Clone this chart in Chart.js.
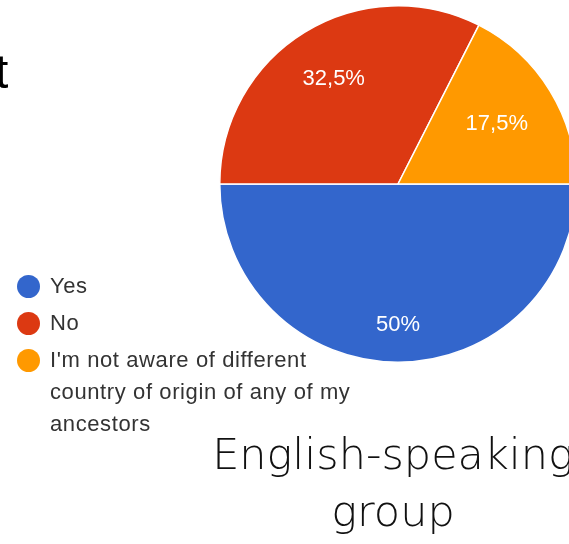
<!DOCTYPE html>
<html>
<head>
<meta charset="utf-8">
<script src="https://cdn.jsdelivr.net/npm/chart.js@4.4.0/dist/chart.umd.min.js"></script>
<style>
  html, body { margin: 0; padding: 0; background: #fff; width: 569px; height: 544px; overflow: hidden; }
  #wrap { position: absolute; left: 0; top: 0; width: 580px; height: 544px; }
  #titleFrag { position: absolute; left: -5px; top: 42px; font: 48px "Liberation Sans", Arial, sans-serif; color: #000; line-height: 60px; }
  #legend { position: absolute; left: 0; top: 270px; font: 22px "Liberation Sans", Arial, sans-serif; color: #333; letter-spacing: 0.6px; }
  .item { position: relative; padding-left: 50px; width: 315px; line-height: 32px; margin-bottom: 5px; }
  .dot { position: absolute; left: 17px; top: 5px; width: 23px; height: 23px; border-radius: 50%; }
  #caption { position: absolute; left: 143px; width: 500px; top: 426px; text-align: center; font: 200 43px "DejaVu Sans", sans-serif; color: #111; line-height: 57px; }
</style>
</head>
<body>
<div id="wrap"><canvas id="pieChart"></canvas></div>
<div id="titleFrag">t</div>
<div id="legend"></div>
<div id="caption">English-speaking<br>group</div>
<script>
const labels = ['Yes', 'No', "I'm not aware of different country of origin of any of my ancestors"];
const values = [50, 32.5, 17.5];
const valueLabels = ['50%', '32,5%', '17,5%'];
const colors = ['#3366cc', '#dc3912', '#ff9900'];

// where the percentage text sits, as a share of the radius
const labelRadius = [0.79, 0.69, 0.65];

const sliceLabels = {
    id: 'sliceLabels',
    afterDatasetsDraw(chart) {
        const ctx = chart.ctx;
        const arcs = chart.getDatasetMeta(0).data;
        ctx.save();
        ctx.fillStyle = '#fff';
        ctx.font = '22px "Liberation Sans", Arial, sans-serif';
        ctx.textAlign = 'center';
        ctx.textBaseline = 'middle';
        arcs.forEach((arc, i) => {
            const p = arc.getProps(['x', 'y', 'startAngle', 'endAngle', 'outerRadius'], true);
            const mid = (p.startAngle + p.endAngle) / 2;
            const r = p.outerRadius * labelRadius[i];
            ctx.fillText(valueLabels[i], p.x + Math.cos(mid) * r, p.y + Math.sin(mid) * r);
        });
        ctx.restore();
    }
};

const pieChart = new Chart(document.getElementById('pieChart').getContext('2d'), {
    type: 'pie',
    data: {
        labels: labels,
        datasets: [{
            data: values,
            backgroundColor: colors,
            borderColor: '#fff',
            borderWidth: 1.5
        }]
    },
    options: {
        responsive: true,
        maintainAspectRatio: false,
        animation: false,
        rotation: 90,
        layout: { padding: { left: 219, top: 5, right: 3, bottom: 181 } },
        plugins: {
            legend: { display: false },
            tooltip: { enabled: false }
        }
    },
    plugins: [sliceLabels]
});

// legend built from the same arrays
const legend = document.getElementById('legend');
labels.forEach((label, i) => {
    const item = document.createElement('div');
    item.className = 'item';
    const dot = document.createElement('span');
    dot.className = 'dot';
    dot.style.background = colors[i];
    item.appendChild(dot);
    item.appendChild(document.createTextNode(label));
    legend.appendChild(item);
});
</script>
</body>
</html>
